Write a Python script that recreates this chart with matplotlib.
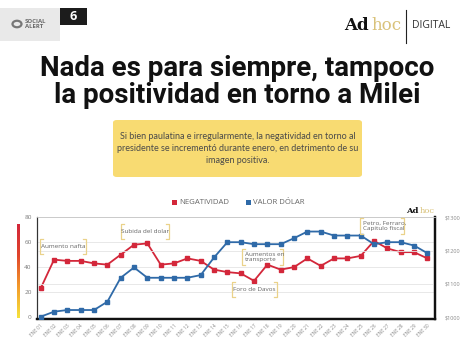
import numpy as np
import matplotlib
matplotlib.use("Agg")
import matplotlib.pyplot as plt
from matplotlib.patches import FancyBboxPatch, Rectangle, Circle
from matplotlib.lines import Line2D
from matplotlib.colors import LinearSegmentedColormap

# ---------------- data ----------------
dates = ["ENE 01", "ENE 02", "ENE 03", "ENE 04", "ENE 05", "ENE 06", "ENE 07", "ENE 08",
         "ENE 09", "ENE 10", "ENE 11", "ENE 12", "ENE 13", "ENE 14", "ENE 15", "ENE 16",
         "ENE 17", "ENE 18", "ENE 19", "ENE 20", "ENE 21", "ENE 22", "ENE 23", "ENE 24",
         "ENE 25", "ENE 26", "ENE 27", "ENE 28", "ENE 29", "ENE 30"]
negatividad = [23, 46, 45, 45, 43, 42, 50, 58, 59, 42, 43, 47, 45, 38, 36, 35, 29, 42,
               38, 40, 47, 41, 47, 47, 49, 61, 55, 52, 52, 47]
valor_dolar = [1001, 1016, 1021, 1021, 1021, 1046, 1118, 1149, 1118, 1118, 1118, 1118,
               1126, 1179, 1225, 1225, 1219, 1219, 1219, 1237, 1257, 1257, 1245, 1245,
               1245, 1219, 1225, 1225, 1215, 1192]
left_ticks = [0, 20, 40, 60, 80]
right_ticks = [1000, 1100, 1200, 1300]
right_labels = ["$1000", "$1100", "$1200", "$1300"]

title = "Nada es para siempre, tampoco\nla positividad en torno a Milei"
subtitle = ("Si bien paulatina e irregularmente, la negatividad en torno al\n"
            "presidente se incrementó durante enero, en detrimento de su\n"
            "imagen positiva.")

RED = "#d3273a"
BLUE = "#2f6aa8"
GOLD = "#ead28a"

W, H = 474, 342
fig = plt.figure(figsize=(W / 100, H / 100), dpi=100)
fig.patch.set_facecolor("white")


def fx(x):
    return x / W


def fy(y):
    return 1 - y / H


SANS = ["Open Sans", "DejaVu Sans"]

# ---------------- header ----------------
fig.patches.append(Rectangle((fx(0), fy(41)), fx(60), 33 / H, transform=fig.transFigure,
                             facecolor="#e9e9e9", edgecolor="none"))
fig.patches.append(Circle((fx(17), fy(24)), 4.5 / W, transform=fig.transFigure,
                          facecolor="none", edgecolor="#777777", lw=1.6))
fig.text(fx(25), fy(24), "SOCIAL\nALERT", fontsize=4.3, fontweight="bold", color="#6a6a6a",
         family=SANS, va="center", ha="left", linespacing=0.95)
fig.patches.append(Rectangle((fx(60), fy(25)), fx(27), 17 / H, transform=fig.transFigure,
                             facecolor="#1c1c1c", edgecolor="none"))
fig.text(fx(73.5), fy(16.5), "6", fontsize=9, fontweight="bold", color="white",
         family=SANS, va="center", ha="center")

fig.text(fx(369), fy(26), "Ad", fontsize=12, fontweight="bold", color="#111111",
         family="DejaVu Serif", va="center", ha="right")
fig.text(fx(371), fy(26), "hoc", fontsize=12, color="#d9c27a",
         family="DejaVu Serif", va="center", ha="left")
fig.add_artist(Line2D([fx(406), fx(406)], [fy(10), fy(43)], transform=fig.transFigure,
                      color="#222222", lw=0.8))
fig.text(fx(412), fy(26), "DIGITAL", fontsize=7.5, color="#333333",
         family=SANS, va="center", ha="left")

# ---------------- title ----------------
fig.text(0.5, fy(82), title, fontsize=20, fontweight="bold", color="#111111",
         family=["Roboto", "DejaVu Sans"], ha="center", va="center", linespacing=1.0)

# ---------------- subtitle box ----------------
fig.patches.append(FancyBboxPatch((fx(113), fy(177)), fx(249), 57 / H,
                                  boxstyle="round,pad=0,rounding_size=0.008",
                                  transform=fig.transFigure,
                                  facecolor="#f8db72", edgecolor="none"))
fig.text(fx(237.5), fy(148.5), subtitle, fontsize=6.5, color="#4a4a4a",
         family=["Lato", "DejaVu Sans"],
         ha="center", va="center", linespacing=1.45)

# ---------------- legend ----------------
fig.patches.append(Rectangle((fx(172), fy(204.5)), 5 / W, 5 / H, transform=fig.transFigure,
                             facecolor=RED, edgecolor="none"))
fig.text(fx(179), fy(202), "NEGATIVIDAD", fontsize=5.6, color="#666666", family=SANS,
         ha="left", va="center")
fig.patches.append(Rectangle((fx(246), fy(204.5)), 5 / W, 5 / H, transform=fig.transFigure,
                             facecolor=BLUE, edgecolor="none"))
fig.text(fx(253), fy(202), "VALOR DÓLAR", fontsize=5.6, color="#666666", family=SANS,
         ha="left", va="center")

# ---------------- chart ----------------
x0, x1, yt, yb = 37.3, 434.7, 217, 319
ax = fig.add_axes([fx(x0), fy(yb), (x1 - x0) / W, (yb - yt) / H])
ax2 = ax.twinx()
xs = np.arange(len(dates))

ax.set_xlim(-0.255, len(dates) - 1 + 0.55)
ax.set_ylim(-1.6, 80.2)
ax2.set_ylim(1000 - 1.6 * 3.75, 1000 + 80.2 * 3.75)

ax.set_yticks(left_ticks)
ax.set_yticklabels([str(t) for t in left_ticks])
ax2.set_yticks(right_ticks)
ax2.set_yticklabels(right_labels)
ax.set_xticks(xs)
ax.set_xticklabels(dates, rotation=45, ha="right", rotation_mode="anchor")

for a in (ax, ax2):
    a.tick_params(length=0)
    a.grid(axis="y", color="#e4e4e4", lw=0.6)
    a.set_axisbelow(True)
    a.spines["left"].set_color("#333333")
    a.spines["left"].set_linewidth(0.8)
    a.spines["bottom"].set_color("#111111")
    a.spines["bottom"].set_linewidth(1.6)
    a.spines["right"].set_color("#111111")
    a.spines["right"].set_linewidth(1.6)
    a.spines["top"].set_color("#c8c8c8")
    a.spines["top"].set_linewidth(0.6)
ax.grid(axis="x", visible=False)
ax2.grid(axis="x", visible=False)

ax.tick_params(axis="y", labelsize=4.6, labelcolor="#7a7a7a", pad=4)
ax.tick_params(axis="x", labelsize=3.4, labelcolor="#8a8a8a", pad=3)
ax2.tick_params(axis="y", labelsize=4.0, labelcolor="#8a8a8a", pad=7)
for lab in ax.get_yticklabels() + ax.get_xticklabels() + ax2.get_yticklabels():
    lab.set_family(SANS)

ax.plot(xs, negatividad, color=RED, lw=1.3, marker="s", ms=3.2, zorder=3)
ax2.plot(xs, valor_dolar, color=BLUE, lw=1.3, marker="s", ms=3.2, zorder=3)

# colour bar on the left
cax = fig.add_axes([fx(16.5), fy(318), 3 / W, (318 - 224) / H])
cmap = LinearSegmentedColormap.from_list("ry", ["#f6e23c", "#f39a2a", "#e0452c", "#d3273a"])
cax.imshow(np.linspace(0, 1, 100).reshape(-1, 1), cmap=cmap, aspect="auto", origin="lower")
cax.axis("off")

# small logo in chart
fig.text(fx(419), fy(211), "Ad", fontsize=6, fontweight="bold", color="#111111",
         family="DejaVu Serif", va="center", ha="right")
fig.text(fx(420), fy(211), "hoc", fontsize=6, color="#d9c27a",
         family="DejaVu Serif", va="center", ha="left")


# ---------------- annotations ----------------
def bracket(l, t, r, b, text, ha="center"):
    for xx, d in ((l, 1), (r, -1)):
        fig.add_artist(Line2D([fx(xx + 3 * d), fx(xx), fx(xx), fx(xx + 3 * d)],
                              [fy(t), fy(t), fy(b), fy(b)], transform=fig.transFigure,
                              color=GOLD, lw=0.9))
    if ha == "center":
        fig.text(fx((l + r) / 2), fy((t + b) / 2), text, fontsize=4.6, color="#666666",
                 family=SANS, ha="center", va="center", linespacing=1.2)
    else:
        fig.text(fx(l + 3), fy((t + b) / 2), text, fontsize=4.6, color="#666666",
                 family=SANS, ha="left", va="center", linespacing=1.2)


bracket(40, 239, 86, 254, "Aumento nafta")
bracket(121, 224, 169, 239, "Subida del dolar")
bracket(242, 249, 283, 265, "Aumentos en\ntransporte", ha="left")
bracket(232, 282, 277, 297, "Foro de Davos")
bracket(360, 218, 404, 234, "Petro, Ferraro,\nCapitulo fiscal", ha="left")

fig.savefig("out.png", dpi=100, facecolor="white")
